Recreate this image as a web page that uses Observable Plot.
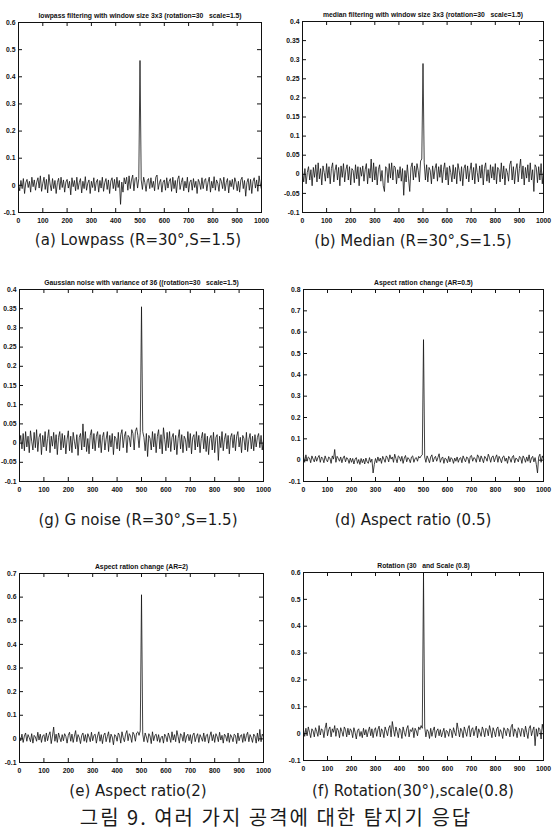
<!DOCTYPE html>
<html><head><meta charset="utf-8">
<script src="https://cdn.jsdelivr.net/npm/d3@7"></script>
<script src="https://cdn.jsdelivr.net/npm/@observablehq/plot@0.6"></script>
<style>
body{margin:0;background:#fff;}
#page{position:relative;width:552px;height:831px;overflow:hidden;background:#fff;}
.panel{position:absolute;}
.panel svg{overflow:visible;}
.cap{position:absolute;font-family:"DejaVu Sans","Noto Sans CJK KR",sans-serif;font-size:15px;line-height:18px;color:#1a1a1a;white-space:nowrap;transform:translateX(-50%);letter-spacing:0px;}
.main{font-family:"Noto Sans CJK KR","DejaVu Sans",sans-serif;font-size:20px;letter-spacing:2px;line-height:22px;}
</style></head><body><div id="page"></div>
<script>
// ---- data ----
const sampleStep = 5; // samples at x = 0, 5, ..., 1000
const xTicks = [0, 100, 200, 300, 400, 500, 600, 700, 800, 900, 1000];
const yTicks06 = [-0.1, 0, 0.1, 0.2, 0.3, 0.4, 0.5, 0.6];
const yTicks04 = [-0.1, -0.05, 0, 0.05, 0.1, 0.15, 0.2, 0.25, 0.3, 0.35, 0.4];
const yTicks08 = [-0.1, 0, 0.1, 0.2, 0.3, 0.4, 0.5, 0.6, 0.7, 0.8];
const yTicks07 = [-0.1, 0, 0.1, 0.2, 0.3, 0.4, 0.5, 0.6, 0.7];

const titles = [
  "lowpass filtering with window size 3x3 (rotation=30   scale=1.5)",
  "median filtering with window size 3x3 (rotation=30   scale=1.5)",
  "Gaussian noise with variance of 36 ((rotation=30   scale=1.5)",
  "Aspect ration change (AR=0.5)",
  "Aspect ration change (AR=2)",
  "Rotation (30   and Scale (0.8)"
];
const captions = [
  "(a) Lowpass (R=30°,S=1.5)",
  "(b) Median (R=30°,S=1.5)",
  "(g) G noise (R=30°,S=1.5)",
  "(d) Aspect ratio (0.5)",
  "(e) Aspect ratio(2)",
  "(f) Rotation(30°),scale(0.8)"
];
const figureCaption = "그림 9. 여러 가지 공격에 대한 탐지기 응답";

const lowpass = [
 .005,-.02,.018,-.012,.025,-.03,.01,.022,-.008,.015,
 -.025,.03,-.005,.02,-.018,.012,.028,-.01,.035,-.022,
 .008,.03,-.015,.022,-.028,.04,.005,-.02,.025,-.012,
 .018,-.03,.01,.026,-.016,.03,-.008,.02,-.025,.012,
 .022,-.01,.015,-.035,.028,-.005,.018,-.02,.03,-.015,
 .01,.025,-.028,.015,-.012,.032,-.018,.008,.02,-.03,
 .015,-.008,.028,-.02,.012,.022,-.025,.018,-.01,.03,
 -.022,.01,.025,-.015,.02,-.03,.016,.028,-.012,.022,
 -.02,.03,-.008,.018,-.07,.012,-.025,.028,.005,.03,
 -.018,.035,-.012,.02,.038,-.02,.025,.03,-.01,.025,
 .46,
 .02,-.015,.03,.01,-.022,.018,.025,-.012,.028,-.008,
 .015,-.02,.03,.038,-.015,.01,.022,-.025,.012,.02,
 -.018,.028,-.01,.015,.025,-.022,.03,-.012,.018,-.028,
 .022,.035,-.015,.01,.028,-.02,.015,-.01,.03,-.025,
 .012,.02,-.018,.025,-.008,.015,-.03,.022,.01,-.015,
 .028,-.012,.018,.025,-.02,.012,.03,-.025,.015,-.01,
 .032,-.018,.02,.008,-.022,.026,.015,-.012,.03,-.02,
 .01,.025,-.028,.018,-.005,.022,-.015,.028,.012,-.02,
 .015,-.025,.02,.03,-.012,.018,-.04,.01,.025,-.018,
 .022,-.03,.015,.028,-.01,.02,-.022,.035,.005,-.015
];
const median = [
 .01,-.02,.015,-.025,.005,.02,-.015,.012,-.03,.018,
 -.008,.025,-.02,.03,-.012,.015,-.028,.022,.005,-.018,
 .028,-.01,.02,-.025,.015,.03,-.02,.01,.025,-.015,
 .018,-.03,.022,-.008,.028,-.02,.012,.025,-.015,.02,
 -.028,.015,.01,-.022,.025,-.012,.02,-.03,.018,-.005,
 .022,-.018,.012,.028,-.025,.015,-.01,.04,-.02,.03,
 -.015,.02,-.028,.012,.025,-.018,.01,-.03,-.045,.02,
 .015,-.022,.028,-.01,.03,-.015,.022,.018,-.025,.012,
 -.01,.02,-.018,.015,-.055,.01,-.02,.025,-.012,-.045,
 .018,.03,-.015,.022,-.008,.028,.01,-.02,.035,.04,
 .29,
 .03,-.015,.025,-.02,.018,.01,-.025,.022,-.012,.015,
 .028,-.018,.02,-.008,.025,-.022,.012,.03,-.015,.018,
 -.028,.022,.005,-.02,.025,-.012,.018,-.025,.028,.01,
 -.018,.02,-.03,.015,.025,-.012,.022,-.02,.01,.03,
 -.015,.018,-.025,.028,.005,-.02,.022,-.01,.025,-.028,
 .015,.03,-.018,.012,-.022,.025,-.01,.02,-.015,.028,
 -.025,.018,.012,-.02,.03,-.012,.022,-.028,.015,.005,
 -.018,.025,.035,-.015,.02,-.025,.012,.028,-.02,.015,
 .04,-.012,.022,-.028,.018,-.01,.025,-.02,.03,-.015,
 .012,-.045,.025,.018,-.022,.02,-.015,.028,-.025,.01
];
const gnoise = [
 -.005,.02,-.015,.025,-.02,.03,-.01,.018,-.025,.032,
 .005,-.018,.028,-.012,.035,-.022,.015,.025,-.03,.02,
 -.01,.03,-.02,.012,.035,-.025,.018,-.008,.028,-.015,
 .022,-.03,.015,.03,-.018,.025,-.012,.02,-.028,.01,
 .032,-.02,.018,-.025,.028,.005,-.015,.022,-.032,.015,
 .025,-.018,.05,-.01,.03,-.022,.012,-.028,.02,.035,
 -.015,.025,-.02,.018,.03,-.012,.022,-.025,.015,.028,
 -.018,.01,.03,-.022,.02,-.01,.025,-.03,.018,.012,
 -.015,.028,-.02,.022,.035,-.012,.018,.03,-.025,.02,
 .015,-.01,.035,.025,-.018,.03,.04,.02,-.012,.028,
 .355,
 .03,.015,-.02,.025,-.035,.02,.012,-.018,.03,-.01,
 .025,-.025,.018,.035,-.015,.022,-.028,.04,.01,-.02,
 .028,-.012,.03,-.022,.015,.025,-.018,.02,-.03,.012,
 .035,-.015,.022,-.025,.018,.01,-.02,.03,-.012,.025,
 -.028,.015,.022,-.018,.03,-.01,.02,-.025,.012,.028,
 -.015,.025,-.022,.018,-.03,.012,.02,-.018,.028,-.025,
 .015,.022,-.045,.018,-.012,.03,-.02,.01,.025,-.015,
 .02,-.028,.015,.025,-.012,.022,-.02,.018,.03,-.01,
 .015,-.025,.02,.012,-.018,.028,-.022,.01,.025,-.015,
 .018,-.02,.022,-.01,.015,.025,-.012,.02,-.018,.01
];
const aspect05 = [
 .02,-.01,.025,-.005,.015,.01,-.012,.02,.005,-.008,
 .018,-.005,.012,.022,-.01,.015,.008,-.012,.02,.003,
 -.008,.015,.01,-.015,.02,.005,.05,-.01,.018,.008,
 -.005,.015,-.012,.01,.02,-.008,.012,.005,-.015,.01,
 -.01,.008,-.018,.005,.012,-.015,.003,-.02,.008,-.012,
 .005,-.018,.01,-.008,-.015,.012,-.01,.005,-.06,-.02,
 .008,-.012,.015,-.005,.01,-.015,.018,.005,-.01,.02,
 .012,-.008,.025,.005,.015,-.01,.028,.008,-.012,.02,
 .015,-.005,.018,-.015,.01,.022,-.008,.012,.005,-.012,
 .015,.02,-.01,.008,.012,-.005,.018,.01,.02,.025,
 .565,
 .015,-.01,.02,.005,-.012,.015,.025,-.008,.01,.018,
 -.005,.012,.03,-.01,.008,.015,-.015,.01,.005,-.012,
 .018,-.008,.012,.005,-.015,.01,-.005,.015,-.01,.008,
 .012,-.012,.02,.005,-.008,.015,.01,-.015,.018,.022,
 -.005,.012,.008,-.01,.025,.015,-.008,.02,.005,-.012,
 .018,.01,-.005,.028,.012,-.01,.015,.02,-.008,.012,
 .025,-.01,.018,.005,-.012,.015,.02,-.005,.01,-.015,
 .018,.008,-.01,.015,.022,-.012,.01,.005,-.008,.018,
 .012,-.015,.02,.008,-.01,.015,-.005,.025,-.012,.01,
 .018,-.008,.012,-.02,-.06,.015,.028,-.01,.02,.005
];
const aspect2 = [
 .01,-.008,.02,-.015,.012,.025,-.01,.018,.005,-.012,
 .022,-.018,.015,.008,-.01,.028,-.005,.02,-.015,.012,
 .018,-.012,.025,-.008,.015,.03,-.02,.012,.05,-.01,
 .02,-.015,.025,.005,-.012,.018,-.008,.022,.01,-.018,
 .015,.028,-.01,.02,-.015,.012,.035,-.012,.018,.005,
 -.02,.015,.025,-.01,.018,-.015,.022,.008,-.012,.028,
 -.008,.015,.02,-.018,.012,.03,-.01,.018,-.02,.015,
 .025,-.012,.01,.03,-.015,.02,.008,-.025,.018,.012,
 -.01,.025,.015,-.018,.03,.005,-.012,.02,.035,-.008,
 .022,.012,-.015,.028,.018,-.01,.025,.03,.015,.035,
 .61,
 .02,-.012,.025,.008,-.015,.022,.012,-.02,.03,-.008,
 .015,.02,-.01,.018,-.015,.005,.012,-.018,.02,.01,
 -.012,.025,.008,-.015,.03,-.005,.018,-.012,.035,.01,
 -.018,.022,.015,-.01,.028,-.015,.012,.02,-.008,.018,
 -.02,.015,.025,-.012,.01,.022,-.015,.018,.005,-.01,
 .025,-.012,.015,.02,-.018,.012,.03,-.008,.018,-.015,
 .022,.01,-.012,.028,-.005,.015,-.018,.02,.012,-.01,
 .025,-.015,.018,.008,-.012,.02,.015,-.02,.025,-.008,
 .012,.018,-.015,.022,-.01,.015,.028,-.012,.018,.005,
 -.015,.02,.012,-.018,.025,-.01,.04,-.012,.02,.01
];
const rotscale = [
 .015,-.01,.02,-.008,.025,.005,-.015,.018,.01,-.012,
 .022,.008,-.01,.03,-.005,.018,.012,-.015,.02,.04,
 -.008,.015,.025,-.012,.018,.005,.03,-.01,.02,.012,
 -.015,.022,.008,-.01,.025,.015,-.012,.02,-.005,.018,
 .01,-.015,.022,.005,-.02,.012,.018,-.01,.008,-.015,
 .02,-.005,.015,-.012,.01,.025,-.008,.018,-.015,.012,
 .022,-.01,.015,.028,-.012,.018,.008,-.015,.025,.01,
 -.008,.02,.03,-.012,.045,.015,-.01,.025,.008,-.015,
 .02,.012,-.018,.025,.005,-.01,.018,.03,-.012,.015,
 .008,.022,-.015,.02,.01,-.008,.025,.015,.03,.02,
 .59,
 .025,-.012,.015,.008,-.018,.02,-.01,.012,.025,-.015,
 .01,.018,-.008,.015,-.012,.005,.02,-.015,.012,.008,
 -.01,.018,.012,-.015,.022,.005,-.008,.04,.015,-.012,
 .02,.01,-.015,.025,.008,-.01,.018,.03,-.012,.015,
 .022,-.008,.012,.028,-.015,.018,.005,-.01,.025,.012,
 -.012,.02,.015,-.008,.03,.01,-.015,.022,.008,-.012,
 .018,.025,-.01,.015,.005,-.018,.022,.012,-.008,.02,
 .015,-.012,.025,.035,-.01,.018,.008,-.015,.022,.012,
 -.01,.02,.015,-.012,.028,.005,-.018,.02,.03,-.008,
 .012,.025,-.045,.018,-.01,.022,.015,-.02,.035,.01
];

// ---- layout (styling only) ----
const panels = [
  {values: lowpass,  yTicks: yTicks06, left: 0,   top: 0,   mL: 18, mR: 15, fH: 190, capX: 138, capY: 231},
  {values: median,   yTicks: yTicks04, left: 276, top: -1,  mL: 26, mR: 9,  fH: 191, capX: 413, capY: 232},
  {values: gnoise,   yTicks: yTicks04, left: 0,   top: 267, mL: 19, mR: 13, fH: 192, capX: 138, capY: 511},
  {values: aspect05, yTicks: yTicks08, left: 276, top: 267, mL: 27, mR: 9,  fH: 192, capX: 413, capY: 511},
  {values: aspect2,  yTicks: yTicks07, left: 0,   top: 551, mL: 19, mR: 13, fH: 189, capX: 138, capY: 782},
  {values: rotscale, yTicks: yTicks06, left: 276, top: 550, mL: 27, mR: 9,  fH: 188, capX: 413, capY: 782}
];
const W = 276, MT = 22, MB = 16;
const fmt = d => String(+d.toFixed(2));
const page = document.getElementById("page");

panels.forEach((p, k) => {
  const data = p.values.map((v, i) => ({x: i * sampleStep, y: v}));
  const fW = W - p.mL - p.mR;
  const yDom = [p.yTicks[0], p.yTicks[p.yTicks.length - 1]];
  const chart = Plot.plot({
    width: W, height: MT + p.fH + MB,
    marginLeft: p.mL, marginRight: p.mR, marginTop: MT, marginBottom: MB,
    x: {domain: [0, 1000]},
    y: {domain: yDom},
    style: {fontFamily: "'Liberation Sans', Arial, sans-serif", background: "transparent", color: "#111"},
    marks: [
      Plot.line(data, {x: "x", y: "y", stroke: "#111", strokeWidth: 0.8}),
      Plot.frame({stroke: "#111", strokeWidth: 1}),
      Plot.tickY(p.yTicks, {y: d => d, insetRight: fW - 4, stroke: "#111"}),
      Plot.tickY(p.yTicks, {y: d => d, insetLeft: fW - 4, stroke: "#111"}),
      Plot.tickX(xTicks, {x: d => d, insetTop: p.fH - 4, stroke: "#111"}),
      Plot.tickX(xTicks, {x: d => d, insetBottom: p.fH - 4, stroke: "#111"}),
      Plot.axisY(p.yTicks, {anchor: "left", tickSize: 0, tickPadding: 3, tickFormat: fmt, fontSize: 6.8, fontWeight: "bold", label: null}),
      Plot.axisX(xTicks, {anchor: "bottom", tickSize: 0, tickPadding: 6, tickFormat: d => String(d), fontSize: 6.8, fontWeight: "bold", label: null}),
      Plot.text([titles[k]], {frameAnchor: "top", dy: -9, fontSize: 6.8, fontWeight: "bold", fill: "#111"})
    ]
  });
  const div = document.createElement("div");
  div.className = "panel";
  div.style.left = p.left + "px";
  div.style.top = p.top + "px";
  div.appendChild(chart);
  page.appendChild(div);

  const cap = document.createElement("div");
  cap.className = "cap";
  cap.style.left = p.capX + "px";
  cap.style.top = p.capY + "px";
  cap.textContent = captions[k];
  page.appendChild(cap);
});

const main = document.createElement("div");
main.className = "cap main";
main.style.left = "276px";
main.style.top = "806px";
main.textContent = figureCaption;
page.appendChild(main);
</script>
</body></html>
